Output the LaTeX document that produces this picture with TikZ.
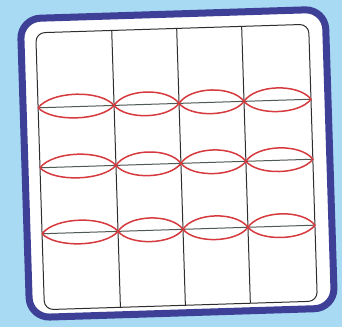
\documentclass[tikz,border=0pt]{standalone}
\definecolor{bgblue}{HTML}{A8DAF4}
\definecolor{frameblue}{HTML}{3E3F96}
\definecolor{lensred}{HTML}{D63A3E}
\definecolor{gridline}{HTML}{2E2E2E}
\definecolor{axisline}{HTML}{4F5A52}
\tikzset{
  gridstroke/.style={draw=gridline, line width=1pt},
  axisstroke/.style={draw=axisline, line width=1pt},
  lensstroke/.style={draw=lensred, line width=1.5pt},
}
\begin{document}
\begin{tikzpicture}[x=1pt,y=-1pt]
  \fill[bgblue] (0,0) rectangle (342,327);
  \useasboundingbox (0,0) rectangle (342,327);
  \begin{scope}[rotate around={1.8:(176,166)}]
    % outer frame
    \draw[frameblue, line width=7pt, fill=white, rounded corners=20pt] (25,14) rectangle (330,313);
    % grid outline
    \draw[gridstroke, rounded corners=9pt] (40,28.5) rectangle (313,305.5);
    % vertical lines
    \foreach \x in {116,181,246}
      \draw[gridstroke] (\x,28.5) -- (\x,305.5);
    % horizontal lines with lenses
    \foreach \y in {103.5,163.5,229.5} {
      \draw[axisstroke] (40,\y) -- (313,\y);
      \foreach \a/\b in {40/116,116/181,181/246,246/313} {
        \draw[lensstroke]
          (\a,\y) .. controls ({\a+(\b-\a)*0.18},{\y-16.5}) and ({\a+(\b-\a)*0.82},{\y-16.5}) .. (\b,\y)
                  .. controls ({\a+(\b-\a)*0.82},{\y+15}) and ({\a+(\b-\a)*0.18},{\y+15}) .. (\a,\y);
      }
    }
  \end{scope}
\end{tikzpicture}
\end{document}
